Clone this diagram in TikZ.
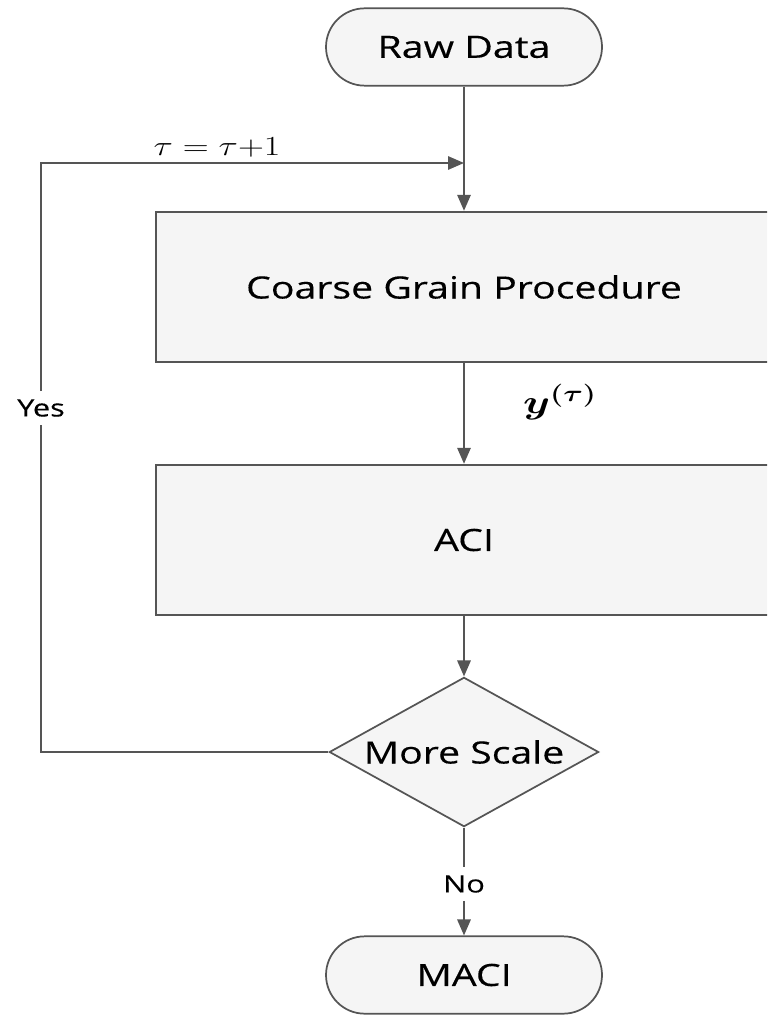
\documentclass[tikz,border=0pt]{standalone}
\usepackage{amsmath}
\usepackage{bm}
\usepackage{fontspec}
\setmainfont[FakeStretch=1.28, FakeBold=0.3]{Open Sans}
\usetikzlibrary{shapes.geometric,arrows.meta}

\definecolor{linegray}{HTML}{555555}
\definecolor{boxfill}{HTML}{F5F5F5}
\newcommand{\mainlabel}{\fontsize{23}{26}\selectfont}
\newcommand{\smalllabel}{\fontsize{18}{20}\selectfont}

\begin{document}
\begin{tikzpicture}[x=0.75pt, y=-0.75pt,
    line/.style={draw=linegray, line width=1.5pt},
    arrow/.style={line, -{Triangle[length=12pt, width=10pt]}},
    terminal/.style={draw=linegray, line width=1.3pt, fill=boxfill, rounded corners=29pt,
        minimum width=207pt, minimum height=58pt, font=\mainlabel},
    process/.style={draw=linegray, line width=1.3pt, fill=boxfill,
        minimum width=462pt, minimum height=113pt, font=\mainlabel},
    decision/.style={diamond, draw=linegray, line width=1.3pt, fill=boxfill,
        minimum width=202pt, minimum height=112pt, inner sep=0pt},
    small/.style={font=\smalllabel, inner xsep=2pt, inner ysep=6pt}]
    \clip (0,0) rectangle (767,1016);
    \fill[white] (0,0) rectangle (767,1016);

    % Flow steps
    \node[terminal] (raw) at (464,47) {Raw Data};
    \node[process] (coarse) at (464,287) {Coarse Grain Procedure};
    \node[process] (aci) at (464,540) {ACI};
    \node[decision, label={[font=\mainlabel]center:More Scale}] (more) at (464,752) {};
    \node[terminal] (maci) at (464,975) {MACI};

    % Labels on the connectors
    \coordinate (join) at (464,163);
    \node[small] (yes) at (41,408) {Yes};
    \node[small] (no) at (464,884) {No};
    \node[font=\fontsize{22}{24}\selectfont] (tau) at (217,147)
        {\scalebox{1.3}[1]{$\tau = \tau{+}1$}};
    \node[font=\fontsize{25}{27}\selectfont] (ytau) at (560,402)
        {\scalebox{1.3}[1]{$\bm{y}^{\bm{(\tau)}}$}};

    % Connectors
    \draw[arrow] (raw) -- (coarse);
    \draw[arrow] (coarse) -- (aci);
    \draw[arrow] (aci) -- (more);
    \draw[line] (more) -- (no);
    \draw[arrow] (no) -- (maci);
    \draw[line] (more.west) -| (yes.south);
    \draw[arrow] (yes.north) |- (join);
\end{tikzpicture}
\end{document}
